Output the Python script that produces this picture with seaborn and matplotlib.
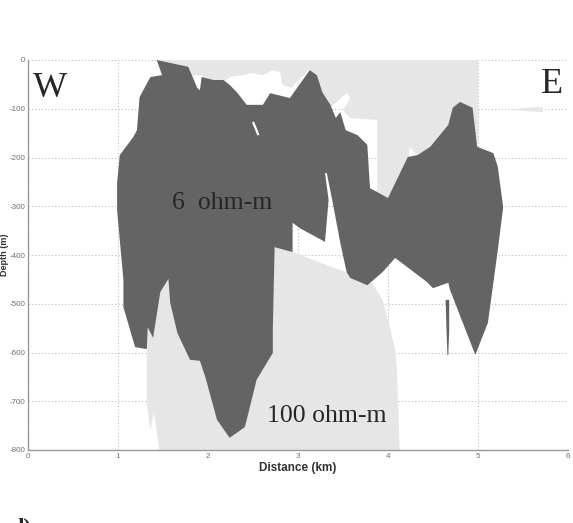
import numpy as np
import matplotlib
matplotlib.use("Agg")
import matplotlib.pyplot as plt
from matplotlib.path import Path
from matplotlib.patches import PathPatch
import seaborn as sns

# ---- resistivity section, distance in km, depth in m (negative down) ----

# conductive body (6 ohm-m)
conductor_x = [1.43, 1.78, 1.83, 1.88, 1.91, 1.93, 2.06, 2.17, 2.24, 2.32, 2.43, 2.61,
               2.69, 2.91, 3.13, 3.21, 3.27, 3.36, 3.42, 3.47, 3.53, 3.66, 3.77, 3.80,
               4.00, 4.22, 4.33, 4.47, 4.67, 4.72, 4.80, 4.94, 4.99, 5.17, 5.22, 5.28,
               5.22, 5.11, 4.97, 4.69, 4.67, 4.50, 4.43, 4.08, 3.94, 3.77, 3.58, 3.54,
               3.47, 3.38, 3.32, 3.30, 3.34, 3.30, 3.02, 2.94, 2.94, 2.74, 2.72, 2.72,
               2.54, 2.41, 2.24, 2.10, 1.97, 1.91, 1.80, 1.66, 1.58, 1.56, 1.47, 1.39,
               1.33, 1.32, 1.19, 1.06, 1.06, 1.03, 0.99, 0.99, 1.02, 1.17, 1.21, 1.24,
               1.36, 1.49]
conductor_z = [0, -14, -35, -57, -62, -35, -41, -41, -51, -66, -92, -92,
               -68, -78, -21, -31, -66, -92, -119, -107, -144, -154, -174, -263,
               -283, -199, -195, -178, -133, -98, -86, -98, -178, -191, -219, -302,
               -390, -539, -605, -472, -457, -468, -455, -406, -435, -462, -447, -435,
               -375, -287, -232, -232, -287, -373, -345, -334, -394, -384, -554, -601,
               -656, -753, -775, -738, -650, -617, -615, -560, -498, -449, -476, -570,
               -548, -593, -589, -507, -451, -390, -308, -252, -195, -158, -144, -76,
               -35, -31]

# thin conductive streak in the east
streak_x = [4.64, 4.68, 4.68, 4.67, 4.66, 4.65]
streak_z = [-492, -492, -554, -605, -605, -554]

# resistive cap (100 ohm-m), upper part, and its gaps
cap_x = [1.43, 5.00, 5.00, 4.80, 4.58, 4.41, 4.13, 3.88, 3.63, 3.24, 3.02, 2.47,
         2.19, 1.91, 1.78, 1.47]
cap_z = [0, 0, -185, -185, -185, -201, -287, -287, -246, -123, -103, -107,
         -62, -72, -31, -6]

gap_a_x = [2.20, 2.24, 2.39, 2.50, 2.61, 2.72, 2.80, 2.83, 2.93, 3.06, 3.11, 3.17,
           3.02, 2.47, 2.30]
gap_a_z = [-43, -35, -31, -27, -31, -21, -25, -51, -57, -31, -21, -33,
           -82, -103, -72]
gap_b_x = [3.36, 3.54, 3.58, 3.50, 3.58, 3.88, 3.88, 3.82, 3.69, 3.47, 3.32]
gap_b_z = [-98, -68, -78, -103, -119, -123, -267, -273, -205, -133, -103]
gap_c_x = [1.82, 1.94, 1.94, 1.82]
gap_c_z = [-32, -32, -74, -74]
gap_d_x = [4.24, 4.34, 4.23]
gap_d_z = [-178, -199, -205]

# resistive basement (100 ohm-m)
base_x = [1.32, 1.32, 1.52, 1.91, 2.74, 2.94, 3.32, 3.54, 3.69, 3.82, 3.94, 4.02,
          4.08, 4.10, 4.13, 1.46, 1.40, 1.36, 1.32]
base_z = [-595, -533, -431, -431, -384, -394, -421, -435, -457, -457, -492, -548,
          -595, -636, -800, -800, -722, -759, -704]

# small resistive lens east of the section
lens_x = [5.36, 5.58, 5.72, 5.72, 5.58]
lens_z = [-101.5, -97.4, -96.4, -106.7, -105.6]

# white crack inside the conductor
crack_x = [2.50, 2.56]
crack_z = [-127, -154]

x_ticks = [0, 1, 2, 3, 4, 5, 6]
z_ticks = [-800, -700, -600, -500, -400, -300, -200, -100, 0]

DARK = "#646464"
LIGHT = "#e6e6e6"

sns.set_style("white")
plt.rcParams["axes.unicode_minus"] = False
plt.rcParams["font.family"] = ["Liberation Sans", "DejaVu Sans"]


def ring(xs, zs, ccw=True):
    pts = np.column_stack([xs, zs]).astype(float)
    area = 0.5 * np.sum(pts[:, 0] * np.roll(pts[:, 1], -1) - np.roll(pts[:, 0], -1) * pts[:, 1])
    if (area > 0) != ccw:
        pts = pts[::-1]
    verts = np.vstack([pts, pts[:1]])
    codes = [Path.MOVETO] + [Path.LINETO] * (len(pts) - 1) + [Path.CLOSEPOLY]
    return verts, codes


def region(outer, holes=()):
    vs, cs = ring(*outer, ccw=True)
    verts, codes = [vs], list(cs)
    for h in holes:
        hv, hc = ring(*h, ccw=False)
        verts.append(hv)
        codes += hc
    return Path(np.vstack(verts), codes)


fig = plt.figure(figsize=(5.73, 5.23), dpi=100)
ax = fig.add_axes([28 / 573, 1 - 450 / 523, 540 / 573, 390 / 523])

ax.add_patch(PathPatch(region((cap_x, cap_z),
                              [(gap_a_x, gap_a_z), (gap_b_x, gap_b_z),
                               (gap_c_x, gap_c_z), (gap_d_x, gap_d_z)]),
                       facecolor=LIGHT, edgecolor="none", zorder=1))
ax.fill(base_x, base_z, color=LIGHT, lw=0, zorder=1)
ax.fill(lens_x, lens_z, color=LIGHT, lw=0, zorder=1)
ax.fill(conductor_x, conductor_z, color=DARK, lw=0, zorder=2)
ax.fill(streak_x, streak_z, color=DARK, lw=0, zorder=2)
ax.plot(crack_x, crack_z, color="white", lw=1.6, solid_capstyle="butt", zorder=3)

ax.set_xlim(0, 6)
ax.set_ylim(-800, 0)
ax.set_xticks(x_ticks)
ax.set_yticks(z_ticks)
ax.grid(True, linestyle=(0, (1, 2)), color="#bcbcbc", linewidth=0.8)
ax.set_axisbelow(True)
for side in ("top", "right"):
    ax.spines[side].set_visible(False)
for side in ("left", "bottom"):
    ax.spines[side].set_color("#9a9a9a")
    ax.spines[side].set_linewidth(1.0)
ax.tick_params(direction="in", length=3, width=0.6, color="#9a9a9a",
               labelsize=5.8, labelcolor="#707070", pad=2)

ax.set_xlabel("Distance (km)", fontsize=8.5, fontweight="bold", color="#333333")
ax.xaxis.set_label_coords(0.5, -0.032)
ax.xaxis.label.set_va("top")
ax.set_ylabel("Depth (m)", fontsize=6.5, fontweight="bold", color="#333333")
ax.yaxis.set_label_coords(-0.036, 0.5)

serif = ["Liberation Serif", "DejaVu Serif"]
ax.text(0.056, -76, "W", family=serif, fontsize=26, va="baseline", ha="left")
ax.text(5.95, -68, "E", family=serif, fontsize=26, va="baseline", ha="right")
ax.text(1.60, -306, "6  ohm-m", family=serif, fontsize=18.5, va="baseline", ha="left")
ax.text(2.66, -743, "100 ohm-m", family=serif, fontsize=18.5, va="baseline", ha="left")
fig.text(11 / 573, -9 / 523, "d)", family=serif, fontsize=16, fontweight="bold",
         va="baseline", ha="left")

fig.savefig("out.png", dpi=100)
